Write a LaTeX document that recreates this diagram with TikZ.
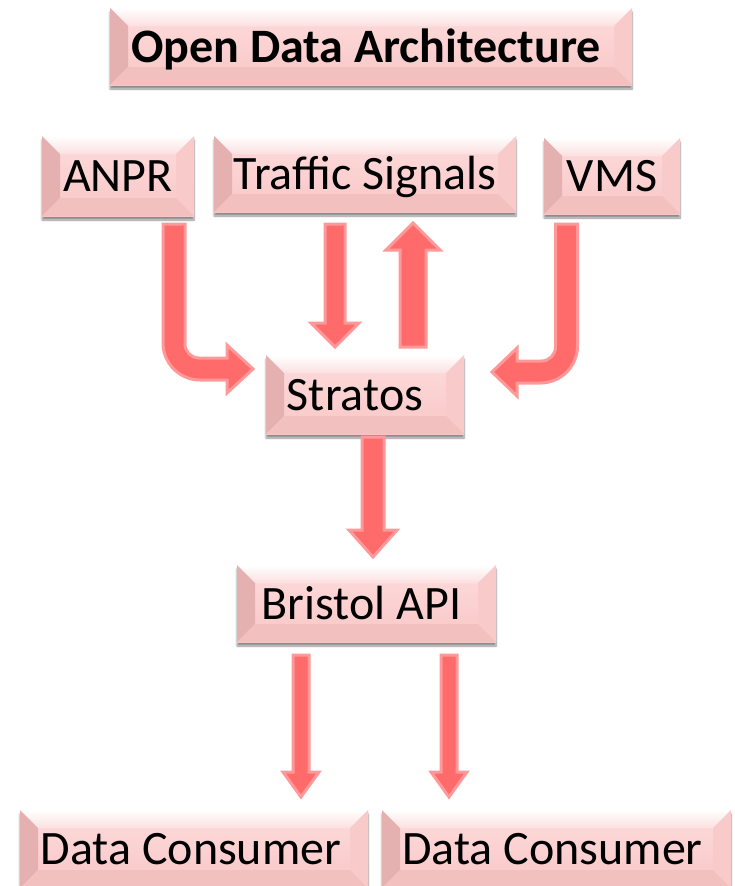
\documentclass[tikz,border=0pt]{standalone}
\usepackage{fontspec}
\setmainfont{Carlito}
\usetikzlibrary{shadows.blur}
\definecolor{boxmid}{RGB}{249,198,198}
\definecolor{boxmidtop}{RGB}{253,220,220}
\definecolor{boxtop}{RGB}{252,224,224}
\definecolor{boxleft}{RGB}{228,176,176}
\definecolor{boxright}{RGB}{248,202,202}
\definecolor{boxbot}{RGB}{243,192,192}
\definecolor{arrfill}{RGB}{255,106,106}
\definecolor{arrline}{RGB}{255,152,152}
\tikzset{
  bevbox/.style n args={2}{minimum width=#1, minimum height=#2, inner sep=0pt,
    text height=31pt, text depth=0pt, text=black,
    font=\fontsize{48}{52}\selectfont,
    fill=boxmid,
    blur shadow={shadow xshift=0pt, shadow yshift=-4pt, shadow opacity=45, shadow blur steps=8},
    path picture={
      \coordinate (nw) at (path picture bounding box.north west);
      \coordinate (ne) at (path picture bounding box.north east);
      \coordinate (sw) at (path picture bounding box.south west);
      \coordinate (se) at (path picture bounding box.south east);
      \shade[top color=boxmidtop, bottom color=boxmid] (nw) rectangle (se);
      \shade[top color=white, bottom color=boxtop] (nw) -- (ne) -- ([xshift=-18pt,yshift=-18pt]ne) -- ([xshift=18pt,yshift=-18pt]nw) -- cycle;
      \fill[boxleft] (nw) -- ([xshift=18pt,yshift=-18pt]nw) -- ([xshift=18pt,yshift=18pt]sw) -- (sw) -- cycle;
      \fill[boxright] (ne) -- (se) -- ([xshift=-18pt,yshift=18pt]se) -- ([xshift=-18pt,yshift=-18pt]ne) -- cycle;
      \fill[boxbot] (sw) -- ([xshift=18pt,yshift=18pt]sw) -- ([xshift=-18pt,yshift=18pt]se) -- (se) -- cycle;
    }},
  blockarrow/.style={fill=arrfill, draw=arrline, line width=3pt, line join=miter}
}
\newcommand\strarrow[6]{%
  \filldraw[blockarrow] ({#1-#4},#2) -- ({#1+#4},#2) -- ({#1+#4},{#3-#6}) -- ({#1+#5},{#3-#6}) -- (#1,#3) -- ({#1-#5},{#3-#6}) -- ({#1-#4},{#3-#6}) -- cycle;}
\begin{document}
\begin{tikzpicture}[x=1pt, y=-1pt]
\useasboundingbox (0,0) rectangle (735,886);
% boxes
\node[bevbox={522pt}{77pt}, font=\fontsize{48}{52}\selectfont\bfseries] (title) at (371,46.5) {\hspace*{-10pt}Open Data Architecture};
\node[bevbox={152pt}{80pt}] (anpr) at (118,176) {ANPR};
\node[bevbox={302pt}{76pt}] (traffic) at (365,174) {Traffic Signals};
\node[bevbox={136pt}{76pt}] (vms) at (612,176) {VMS};
\node[bevbox={198pt}{79pt}] (stratos) at (365,394.5) {\hspace*{-20pt}Stratos};
\node[bevbox={259pt}{77pt}] (api) at (366.5,603.5) {\hspace*{-10pt}Bristol API};
\node[bevbox={348pt}{78pt}] (dc1) at (194,849) {\hspace*{-6pt}Data Consumer};
\node[bevbox={349pt}{78pt}] (dc2) at (556.5,849) {\hspace*{-8pt}Data Consumer};
% bent arrows
\filldraw[blockarrow] (163,224) -- (185,224) -- (185,344)
  .. controls (185,351.7) and (191.3,358) .. (199,358) -- (227,358) -- (227,345)
  -- (253,369) -- (227,393) -- (227,380) -- (200,380)
  .. controls (179.6,380) and (163,363.4) .. (163,343) -- cycle;
\filldraw[blockarrow] (577.5,224) -- (555.5,224) -- (555.5,347)
  .. controls (555.5,354.7) and (549.2,361) .. (541.5,361) -- (517,361) -- (517,348)
  -- (492,372) -- (517,396) -- (517,383) -- (540.5,383)
  .. controls (560.9,383) and (577.5,366.4) .. (577.5,346) -- cycle;
% straight arrows
\strarrow{335}{224}{347}{10}{24}{24}
\strarrow{413}{347}{223}{13}{27}{-27}
\strarrow{373}{437}{557}{11}{24}{27}
\strarrow{301}{655}{797}{8}{18}{25}
\strarrow{449}{655}{797}{8}{18}{25}
\end{tikzpicture}
\end{document}
